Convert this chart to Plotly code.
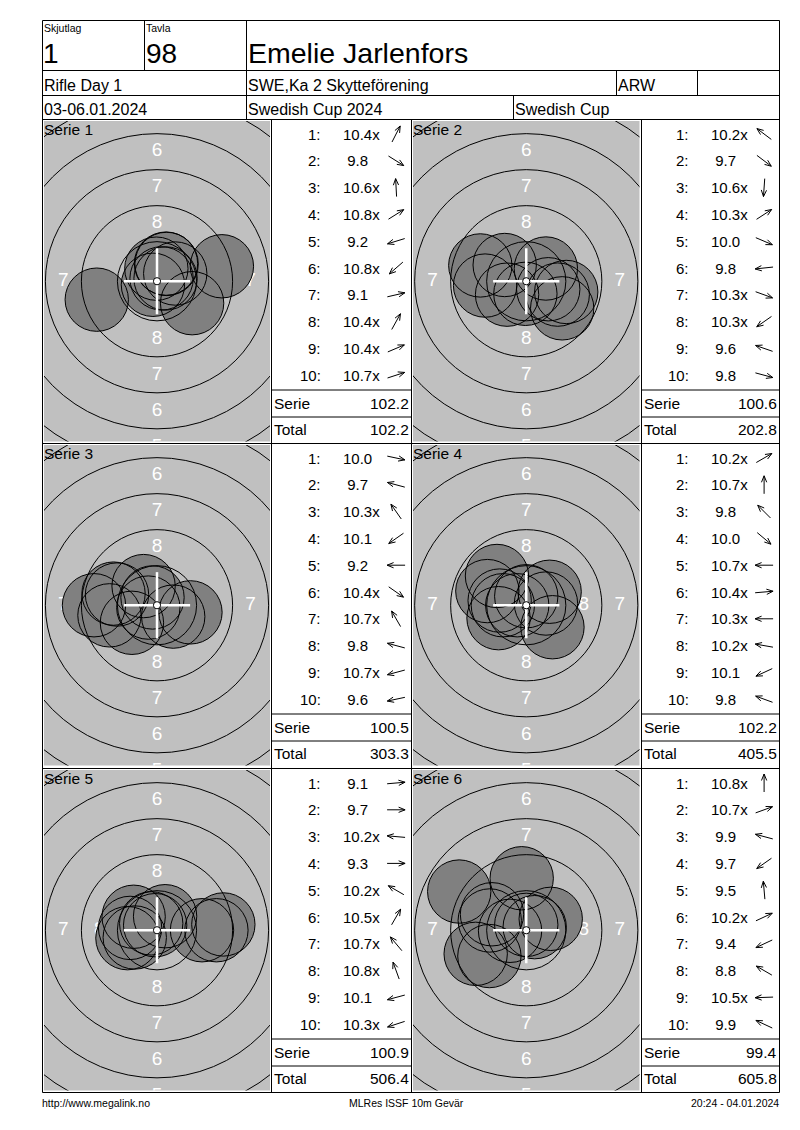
import math
import plotly.graph_objects as go

W, H = 800, 1130
FONT = "Liberation Sans, Arial, sans-serif"

# ---------------- data ----------------
skjutlag_label, skjutlag_value = "Skjutlag", "1"
tavla_label, tavla_value = "Tavla", "98"
shooter_name = "Emelie Jarlenfors"
event_name = "Rifle Day 1"
club_name = "SWE,Ka 2 Skytteförening"
class_code = "ARW"
event_dates = "03-06.01.2024"
competition = "Swedish Cup 2024"
cup_name = "Swedish Cup"
footer_left = "http://www.megalink.no"
footer_mid = "MLRes ISSF 10m Gevär"
footer_right = "20:24 - 04.01.2024"

series_titles = ["Serie 1", "Serie 2", "Serie 3", "Serie 4", "Serie 5", "Serie 6"]
shot_numbers = ["1:", "2:", "3:", "4:", "5:", "6:", "7:", "8:", "9:", "10:"]

serie1_scores = ["10.4x", "9.8", "10.6x", "10.8x", "9.2", "10.8x", "9.1", "10.4x", "10.4x", "10.7x"]
serie2_scores = ["10.2x", "9.7", "10.6x", "10.3x", "10.0", "9.8", "10.3x", "10.3x", "9.6", "9.8"]
serie3_scores = ["10.0", "9.7", "10.3x", "10.1", "9.2", "10.4x", "10.7x", "9.8", "10.7x", "9.6"]
serie4_scores = ["10.2x", "10.7x", "9.8", "10.0", "10.7x", "10.4x", "10.3x", "10.2x", "10.1", "9.8"]
serie5_scores = ["9.1", "9.7", "10.2x", "9.3", "10.2x", "10.5x", "10.7x", "10.8x", "10.1", "10.3x"]
serie6_scores = ["10.8x", "10.7x", "9.9", "9.7", "9.5", "10.2x", "9.4", "8.8", "10.5x", "9.9"]

# direction of each shot from the centre (degrees, 0 = right, 90 = up), read from the arrows
serie1_angles = [63, -32, 93, 32, 197, 221, 13, 61, 23, 18]
serie2_angles = [143, -37, 266, 33, -23, 186, -20, 215, 161, -15]
serie3_angles = [-12, 165, 125, 215, 180, -35, 120, 165, 195, 192]
serie4_angles = [30, 90, 135, -40, 180, 5, 180, 170, 205, 160]
serie5_angles = [5, 0, 175, 0, 150, 60, 130, 110, 195, 198]
serie6_angles = [90, 20, 165, 215, 95, 25, 205, 150, 182, 155]

serie_sums = ["102.2", "100.6", "100.5", "102.2", "100.9", "99.4"]
running_totals = ["102.2", "202.8", "303.3", "405.5", "506.4", "605.8"]
ring_numbers = [8, 7, 6, 5]

all_scores = [serie1_scores, serie2_scores, serie3_scores, serie4_scores, serie5_scores, serie6_scores]
all_angles = [serie1_angles, serie2_angles, serie3_angles, serie4_angles, serie5_angles, serie6_angles]

# ---------------- geometry (pixels / mm) ----------------
S = 14.4            # pixels per mm on the targets
PELLET_R = 2.2      # drawn shot radius, mm
CROSS = 2.3         # centre cross arm, mm
TEN_R = 0.25        # 10 ring dot radius, mm

FR_L, FR_R, FR_T, FR_B = 42.5, 779.5, 20.5, 1092.5
ROW_T = [119.5, 443.5, 768.5]
TARGET_X = [(44, 270), (413, 639.5)]
TABLE_LR = [(271.5, 411.5), (641.5, 779.5)]
ROW0, ROWSTEP = 14.5, 26.8

def ring_r(k):
    return 0.25 + 2.5 * (10 - k)

fig = go.Figure()
shapes, annos = [], []

def line(x0, y0, x1, y1, color="black", width=1, xref="x", yref="y"):
    shapes.append(dict(type="line", x0=x0, y0=y0, x1=x1, y1=y1, xref=xref, yref=yref,
                       line=dict(color=color, width=width), layer="above"))

def text(x, y, s, size, anchor="left", color="black"):
    annos.append(dict(x=x, y=y, xref="x", yref="y", text=s, showarrow=False,
                      xanchor=anchor, yanchor="middle", borderpad=0, borderwidth=0,
                      font=dict(family=FONT, size=size, color=color)))

# ---------- frame ----------
shapes.append(dict(type="rect", x0=FR_L, x1=FR_R, y0=FR_T, y1=FR_B, xref="x", yref="y",
                   line=dict(color="black", width=1), layer="above"))
line(FR_L, 70.5, FR_R, 70.5)
line(FR_L, 95.5, FR_R, 95.5)
line(FR_L, 119.5, FR_R, 119.5)
line(144.5, FR_T, 144.5, 70.5)
line(246.5, FR_T, 246.5, 119.5)
line(616.5, 70.5, 616.5, 95.5)
line(697.5, 70.5, 697.5, 95.5)
line(513.5, 95.5, 513.5, 119.5)
for rt in ROW_T[1:]:
    line(FR_L, rt, FR_R, rt)
for xv in (271.5, 411.5, 641.5):
    line(xv, 119.5, xv, FR_B)

# ---------- header text ----------
text(44, 27.5, skjutlag_label, 10.5)
text(146, 27.5, tavla_label, 10.5)
text(43, 53, skjutlag_value, 28)
text(146, 53, tavla_value, 28)
text(248, 53, shooter_name, 28.5)
text(44, 85.5, event_name, 16)
text(248, 85.5, club_name, 16)
text(618, 85.5, class_code, 16)
text(44, 109.5, event_dates, 16)
text(248, 109.5, competition, 16)
text(515, 109.5, cup_name, 16)

# footer
text(42, 1103, footer_left, 10.5)
text(406, 1103, footer_mid, 10.5, anchor="center")
text(779, 1103, footer_right, 10.5, anchor="right")

# ---------- tables and arrows ----------
arr_x, arr_y = [], []
HALF, HEAD_LEN, HEAD_ANG = 9.0, 7.0, math.radians(22)
for k in range(6):
    row, col = divmod(k, 2)
    rt = ROW_T[row]
    L, R = TABLE_LR[col]
    for i, (lab, sc, ang) in enumerate(zip(shot_numbers, all_scores[k], all_angles[k])):
        cy = rt + ROW0 + ROWSTEP * i
        text(R - 91, cy, lab, 15, anchor="right")
        val = float(sc.rstrip("x"))
        text(R - 69, cy, ("\u00a0" + sc) if val < 10 else sc, 15)
        a = math.radians(ang)
        ux, uy = math.cos(a), -math.sin(a)
        cx = R - 15.4
        tx, ty = cx - HALF * ux, cy - HALF * uy
        hx, hy = cx + HALF * ux, cy + HALF * uy
        arr_x += [tx, hx, None]
        arr_y += [ty, hy, None]
        for sgn in (1, -1):
            b = a + math.pi + sgn * HEAD_ANG
            arr_x += [hx, hx + HEAD_LEN * math.cos(b), None]
            arr_y += [hy, hy - HEAD_LEN * math.sin(b), None]
    line(L, rt + 270.5, R, rt + 270.5)
    line(L, rt + 297.5, R, rt + 297.5)
    text(L + 2.5, rt + 283.7, "Serie", 15.5)
    text(R - 2.3, rt + 283.7, serie_sums[k], 15.5, anchor="right")
    text(L + 2.5, rt + 309.7, "Total", 15.5)
    text(R - 2.3, rt + 309.7, running_totals[k], 15.5, anchor="right")

fig.add_trace(go.Scatter(x=arr_x, y=arr_y, mode="lines", xaxis="x", yaxis="y",
                         line=dict(color="black", width=1), hoverinfo="skip"))

layout_axes = {}
# ---------- targets ----------
for k in range(6):
    n = k + 2
    row, col = divmod(k, 2)
    rt = ROW_T[row]
    x0, x1 = TARGET_X[col]
    y0, y1 = rt + 1.5, rt + 322
    hw, hh = (x1 - x0) / 2 / S, (y1 - y0) / 2 / S
    layout_axes[f"xaxis{n}"] = dict(domain=[x0 / W, x1 / W], range=[-hw, hw], visible=False,
                                    fixedrange=True, anchor=f"y{n}")
    layout_axes[f"yaxis{n}"] = dict(domain=[1 - y1 / H, 1 - y0 / H], range=[-hh, hh], visible=False,
                                    fixedrange=True, anchor=f"x{n}")
    xr, yr = f"x{n}", f"y{n}"
    shapes.append(dict(type="rect", xref=f"{xr} domain", yref=f"{yr} domain", x0=0, x1=1, y0=0, y1=1,
                       fillcolor="#c0c0c0", line=dict(width=0), layer="below"))
    # ring numbers (only those that reach into the visible target area)
    lx, ly, lt = [], [], []
    for num in ring_numbers:
        rm = (ring_r(num + 1) + ring_r(num)) / 2
        for dx, dy in ((0, 1), (0, -1), (-1, 0), (1, 0)):
            px_, py_ = dx * rm, dy * rm
            if abs(px_) > hw or abs(py_) > hh + 0.5:
                continue
            lx.append(px_); ly.append(py_); lt.append(str(num))
    fig.add_trace(go.Scatter(x=lx, y=ly, text=lt, mode="text", xaxis=xr, yaxis=yr,
                             textfont=dict(family=FONT, size=19, color="white"),
                             textposition="middle center", cliponaxis=True, hoverinfo="skip"))
    # shots
    sx, sy = [], []
    for sc, ang in zip(all_scores[k], all_angles[k]):
        val = float(sc.rstrip("x"))
        d = max(10.95 - val, 0) * 2.5
        a = math.radians(ang)
        sx.append(d * math.cos(a)); sy.append(d * math.sin(a))
    fig.add_trace(go.Scatter(x=sx, y=sy, mode="markers", xaxis=xr, yaxis=yr,
                             marker=dict(size=2 * PELLET_R * S, color="#808080", line=dict(width=0)),
                             cliponaxis=True, hoverinfo="skip"))
    # rings
    for ring in range(9, 0, -1):
        r = ring_r(ring)
        shapes.append(dict(type="circle", xref=xr, yref=yr, x0=-r, x1=r, y0=-r, y1=r,
                           line=dict(color="black", width=1), layer="above"))
    # shot outlines
    for px_, py_ in zip(sx, sy):
        shapes.append(dict(type="circle", xref=xr, yref=yr, x0=px_ - PELLET_R, x1=px_ + PELLET_R,
                           y0=py_ - PELLET_R, y1=py_ + PELLET_R,
                           line=dict(color="black", width=1), layer="above"))
    # centre cross and 10 dot
    line(-CROSS, 0, CROSS, 0, color="white", width=2.5, xref=xr, yref=yr)
    line(0, -CROSS, 0, CROSS, color="white", width=2.5, xref=xr, yref=yr)
    shapes.append(dict(type="circle", xref=xr, yref=yr, x0=-TEN_R, x1=TEN_R, y0=-TEN_R, y1=TEN_R,
                       fillcolor="white", line=dict(color="black", width=1), layer="above"))
    # series title
    text(x0, rt + 10, series_titles[k], 15.5)

fig.update_layout(
    width=W, height=H, margin=dict(l=0, r=0, t=0, b=0),
    paper_bgcolor="white", plot_bgcolor="rgba(0,0,0,0)", showlegend=False,
    xaxis=dict(range=[0, W], domain=[0, 1], visible=False, fixedrange=True),
    yaxis=dict(range=[H, 0], domain=[0, 1], visible=False, fixedrange=True),
    shapes=shapes, annotations=annos, **layout_axes,
)

fig.write_html("out.html", config={"displayModeBar": False, "staticPlot": True},
               post_script="document.body.style.margin='0';document.body.style.overflow='hidden';")
